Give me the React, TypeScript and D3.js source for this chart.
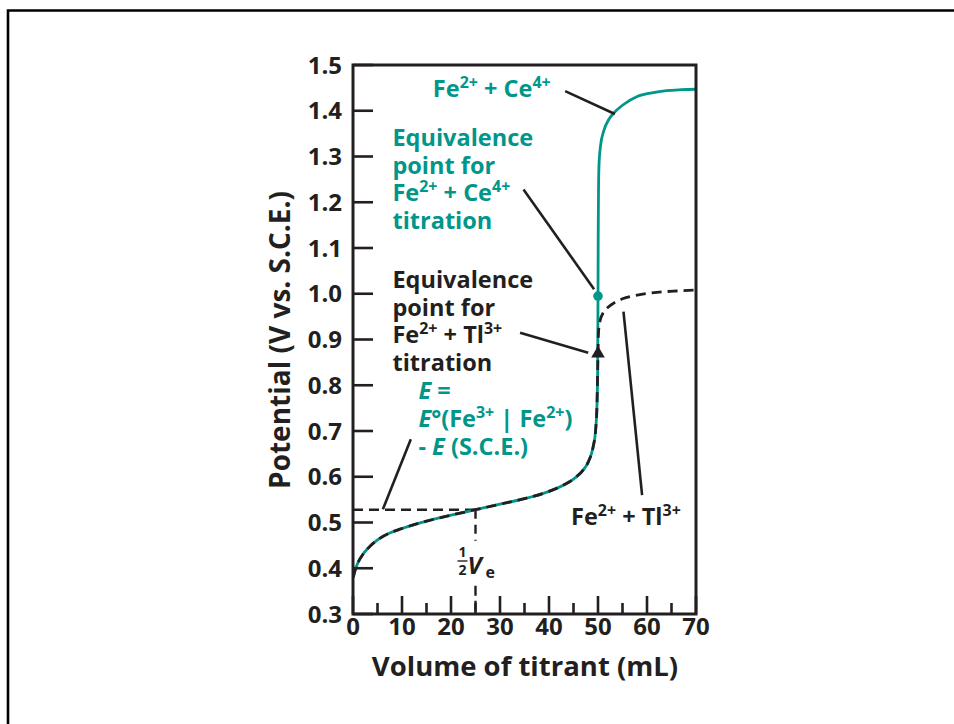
import React from "react";
import * as d3 from "d3";

// ---- data ----
// shared pre-equivalence branch (Fe2+ titration, V < Ve)
const preVolume = [0.05, 0.5, 1, 2, 3, 5, 7.5, 10, 15, 20, 25, 30, 35, 40, 43, 45, 47, 48, 49, 49.5, 49.8, 49.93];
const prePotential = [0.38, 0.398, 0.412, 0.43, 0.443, 0.462, 0.477, 0.487, 0.503, 0.516, 0.528, 0.54, 0.552, 0.568, 0.582, 0.595, 0.615, 0.632, 0.665, 0.7, 0.76, 0.83];
// Fe2+ + Ce4+ after equivalence
const ceVolume = [50, 50.04, 50.1, 50.2, 50.5, 51.2, 52.2, 53.3, 55, 58, 61, 64, 67, 70];
const cePotential = [0.995, 1.12, 1.22, 1.28, 1.322, 1.357, 1.381, 1.396, 1.412, 1.431, 1.439, 1.444, 1.446, 1.447];
// Fe2+ + Tl3+ after equivalence
const tlVolume = [50, 50.05, 50.15, 50.4, 51, 52, 53.3, 55, 58, 62, 66, 70];
const tlPotential = [0.869, 0.9, 0.922, 0.94, 0.957, 0.97, 0.98, 0.989, 0.997, 1.003, 1.006, 1.008];
// equivalence points and half-equivalence
const ceEquivalence = [50, 0.995];
const tlEquivalence = [50, 0.869];
const halfVolume = 25;
const halfPotential = 0.528;

const potentialTicks = [0.3, 0.4, 0.5, 0.6, 0.7, 0.8, 0.9, 1.0, 1.1, 1.2, 1.3, 1.4, 1.5];
const volumeTicks = [0, 10, 20, 30, 40, 50, 60, 70];
const volumeMinorTicks = [5, 15, 25, 35, 45, 55, 65];

const TEAL = "#00968a";
const INK = "#231f20";
const FONT = "'Open Sans', 'Noto Sans', sans-serif";

type Seg = { t: string; sup?: boolean; sub?: boolean; it?: boolean };

function Rich({ segs, x, y, size, fill, anchor }: { segs: Seg[]; x: number; y: number; size: number; fill: string; anchor?: string }) {
  let shift = 0;
  const parts = segs.map((s, i) => {
    const target = s.sup ? -0.4 * size : s.sub ? 0.22 * size : 0;
    const dy = target - shift;
    shift = target;
    return (
      <tspan key={i} dy={dy} fontSize={s.sup || s.sub ? size * 0.68 : size} fontStyle={s.it ? "italic" : "normal"}>
        {s.t}
      </tspan>
    );
  });
  return (
    <text x={x} y={y} fill={fill} fontFamily={FONT} fontWeight={700} textAnchor={anchor || "start"} style={{ whiteSpace: "pre" }}>
      {parts}
    </text>
  );
}

export default function App() {
  const x = d3.scaleLinear().domain([0, 70]).range([353, 696]);
  const y = d3.scaleLinear().domain([0.3, 1.5]).range([614, 65]);

  const pre = preVolume.map((v, i) => [v, prePotential[i]] as [number, number]);
  const ce = pre.concat(ceVolume.map((v, i) => [v, cePotential[i]] as [number, number]));
  const tl = pre.concat(tlVolume.map((v, i) => [v, tlPotential[i]] as [number, number]));

  const line = d3
    .line<[number, number]>()
    .x((d) => x(d[0]))
    .y((d) => y(d[1]))
    .curve(d3.curveMonotoneX);

  const fmt = d3.format(".1f");
  const annSize = 23.5;
  const lh = 27.7;

  const leader = (a: number[], b: number[], key: string) => (
    <line key={key} x1={x(a[0])} y1={y(a[1])} x2={x(b[0])} y2={y(b[1])} stroke={INK} strokeWidth={2.6} />
  );

  const tealBlock: Seg[][] = [
    [{ t: "Equivalence" }],
    [{ t: "point for" }],
    [{ t: "Fe" }, { t: "2+", sup: true }, { t: " + Ce" }, { t: "4+", sup: true }],
    [{ t: "titration" }],
  ];
  const inkBlock: Seg[][] = [
    [{ t: "Equivalence" }],
    [{ t: "point for" }],
    [{ t: "Fe" }, { t: "2+", sup: true }, { t: " + Tl" }, { t: "3+", sup: true }],
    [{ t: "titration" }],
  ];
  const eqBlock: Seg[][] = [
    [{ t: "E", it: true }, { t: " =" }],
    [{ t: "E", it: true }, { t: "°(Fe" }, { t: "3+", sup: true }, { t: " | Fe" }, { t: "2+", sup: true }, { t: ")" }],
    [{ t: "- " }, { t: "E", it: true }, { t: " (S.C.E.)" }],
  ];

  return (
    <svg width={954} height={724} style={{ position: "absolute", left: 0, top: 0, background: "#fff" }}>
      <rect x={0} y={0} width={954} height={724} fill="#fff" />
      {/* outer frame */}
      <path d="M8,724 V10.5 H954" fill="none" stroke="#000" strokeWidth={2.6} />

      {/* half-equivalence guides */}
      <line x1={x(0)} y1={y(halfPotential)} x2={x(halfVolume)} y2={y(halfPotential)} stroke={INK} strokeWidth={2.6} strokeDasharray="10 6" />
      <line x1={x(halfVolume)} y1={y(halfPotential)} x2={x(halfVolume)} y2={y(0.46)} stroke={INK} strokeWidth={2.4} strokeDasharray="9 6" />
      <line x1={x(halfVolume)} y1={y(0.362)} x2={x(halfVolume)} y2={y(0.3)} stroke={INK} strokeWidth={2.4} strokeDasharray="10 5" />

      {/* curves */}
      <path d={line(ce) || ""} fill="none" stroke={TEAL} strokeWidth={2.8} />
      <path d={line(tl) || ""} fill="none" stroke={INK} strokeWidth={2.8} strokeDasharray="10 6" />

      {/* axes frame */}
      <rect x={x(0)} y={y(1.5)} width={x(70) - x(0)} height={y(0.3) - y(1.5)} fill="none" stroke={INK} strokeWidth={3} />
      {potentialTicks.map((t) => (
        <g key={"py" + t}>
          <line x1={x(0)} x2={x(0) + 20} y1={y(t)} y2={y(t)} stroke={INK} strokeWidth={2.6} />
          <text x={342} y={y(t)} dy="0.36em" textAnchor="end" fontFamily={FONT} fontWeight={700} fontSize={24} fill={INK}>
            {fmt(t)}
          </text>
        </g>
      ))}
      {volumeTicks.map((t) => (
        <g key={"vx" + t}>
          <line x1={x(t)} x2={x(t)} y1={y(0.3)} y2={y(0.3) - 18} stroke={INK} strokeWidth={2.6} />
          <text x={x(t)} y={635} textAnchor="middle" fontFamily={FONT} fontWeight={700} fontSize={24} fill={INK}>
            {t}
          </text>
        </g>
      ))}
      {volumeMinorTicks.map((t) => (
        <line key={"vm" + t} x1={x(t)} x2={x(t)} y1={y(0.3)} y2={y(0.3) - 11} stroke={INK} strokeWidth={2.6} />
      ))}

      {/* axis titles */}
      <text x={525} y={676} textAnchor="middle" fontFamily={FONT} fontWeight={700} fontSize={27.5} fill={INK}>
        Volume of titrant (mL)
      </text>
      <text transform="translate(290,340) rotate(-90)" textAnchor="middle" fontFamily={FONT} fontWeight={700} fontSize={28} fill={INK}>
        Potential (V vs. S.C.E.)
      </text>

      {/* markers */}
      <circle cx={x(ceEquivalence[0])} cy={y(ceEquivalence[1])} r={4.8} fill={TEAL} />
      <path
        d={d3.symbol(d3.symbolTriangle, 80)() || ""}
        transform={`translate(${x(tlEquivalence[0])},${y(tlEquivalence[1])})`}
        fill={INK}
      />

      {/* leaders */}
      {leader([43.3, 1.443], [53.45, 1.393], "l1")}
      {leader([34.8, 1.228], [49.2, 1.01], "l2")}
      {leader([34.1, 0.915], [48.0, 0.871], "l3")}
      {leader([11.8, 0.682], [6.1, 0.529], "l4")}
      {leader([59.0, 0.56], [55.2, 0.961], "l5")}

      {/* annotation text */}
      <Rich segs={[{ t: "Fe" }, { t: "2+", sup: true }, { t: " + Ce" }, { t: "4+", sup: true }]} x={x(16.3)} y={y(1.43)} size={annSize} fill={TEAL} />
      {tealBlock.map((segs, i) => (
        <Rich key={"tb" + i} segs={segs} x={x(8.05)} y={y(1.323) + i * lh} size={annSize} fill={TEAL} />
      ))}
      {inkBlock.map((segs, i) => (
        <Rich key={"ib" + i} segs={segs} x={x(8.05)} y={y(1.0126) + i * lh} size={annSize} fill={INK} />
      ))}
      {eqBlock.map((segs, i) => (
        <Rich key={"eb" + i} segs={segs} x={x(13.35)} y={y(0.77) + i * 28} size={annSize} fill={TEAL} />
      ))}
      <Rich segs={[{ t: "Fe" }, { t: "2+", sup: true }, { t: " + Tl" }, { t: "3+", sup: true }]} x={x(44.5)} y={y(0.4945)} size={annSize} fill={INK} />

      {/* 1/2 Ve label */}
      <g fontFamily={FONT} fontWeight={700} fill={INK}>
        <text x={x(halfVolume) - 13} y={557} textAnchor="middle" fontSize={14}>1</text>
        <line x1={x(halfVolume) - 18} x2={x(halfVolume) - 8} y1={561} y2={561} stroke={INK} strokeWidth={1.4} />
        <text x={x(halfVolume) - 13} y={575} textAnchor="middle" fontSize={14}>2</text>
        <text x={x(halfVolume) - 8} y={574} fontSize={24} fontStyle="italic">V</text>
        <text x={x(halfVolume) + 10} y={578} fontSize={16}>e</text>
      </g>
    </svg>
  );
}
